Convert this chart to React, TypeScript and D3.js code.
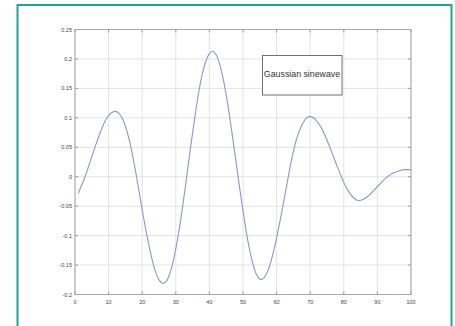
import React from "react";
import * as d3 from "d3";

const xValues = [
  1, 2, 3, 4, 5, 6, 7, 8, 9, 10, 11, 12, 13, 14, 15, 16, 17, 18, 19, 20,
  21, 22, 23, 24, 25, 26, 27, 28, 29, 30, 31, 32, 33, 34, 35, 36, 37, 38, 39, 40,
  41, 42, 43, 44, 45, 46, 47, 48, 49, 50, 51, 52, 53, 54, 55, 56, 57, 58, 59, 60,
  61, 62, 63, 64, 65, 66, 67, 68, 69, 70, 71, 72, 73, 74, 75, 76, 77, 78, 79, 80,
  81, 82, 83, 84, 85, 86, 87, 88, 89, 90, 91, 92, 93, 94, 95, 96, 97, 98, 99, 100,
];
const yValues = [
  -0.028, -0.014, 0.0, 0.017, 0.034, 0.051, 0.067, 0.082, 0.095, 0.104,
  0.109, 0.111, 0.108, 0.1, 0.086, 0.066, 0.04, 0.01, -0.023, -0.056,
  -0.088, -0.116, -0.142, -0.162, -0.175, -0.181, -0.179, -0.168, -0.149, -0.122,
  -0.09, -0.052, -0.01, 0.033, 0.075, 0.114, 0.149, 0.177, 0.197, 0.209,
  0.213, 0.207, 0.192, 0.169, 0.139, 0.103, 0.063, 0.022, -0.019, -0.058,
  -0.094, -0.125, -0.149, -0.166, -0.174, -0.173, -0.165, -0.15, -0.129, -0.104,
  -0.076, -0.046, -0.015, 0.016, 0.043, 0.065, 0.081, 0.093, 0.1, 0.102,
  0.1, 0.094, 0.086, 0.075, 0.062, 0.048, 0.033, 0.018, 0.004, -0.01,
  -0.021, -0.03, -0.036, -0.04, -0.04, -0.038, -0.034, -0.029, -0.023, -0.017,
  -0.011, -0.005, 0.0, 0.004, 0.007, 0.009, 0.011, 0.012, 0.012, 0.012,
];
const xTicks = [0, 10, 20, 30, 40, 50, 60, 70, 80, 90, 100];
const yTicks = [-0.2, -0.15, -0.1, -0.05, 0, 0.05, 0.1, 0.15, 0.2, 0.25];
const yTickLabels = ["-0.2", "-0.15", "-0.1", "-0.05", "0", "0.05", "0.1", "0.15", "0.2", "0.25"];
const legendLabel = "Gaussian sinewave";

export default function App() {
  const W = 455;
  const H = 326;
  const left = 75;
  const right = 411;
  const top = 29.5;
  const bottom = 294.5;
  const x = d3.scaleLinear().domain([0, 100]).range([left, right]);
  const y = d3.scaleLinear().domain([-0.2, 0.25]).range([bottom, top]);
  const pts = xValues.map((v, i) => [v, yValues[i]] as [number, number]);
  const line = d3
    .line<[number, number]>()
    .x((d) => x(d[0]))
    .y((d) => y(d[1]))
    .curve(d3.curveCatmullRom);
  const font = "'Liberation Sans', Arial, sans-serif";
  return (
    <svg
      width={W}
      height={H}
      style={{ position: "absolute", left: 0, top: 0, display: "block", background: "#fff" }}
    >
      <rect x={17.5} y={5} width={434} height={330} fill="#fff" stroke="#1fa39b" strokeWidth={2} />
      {xTicks.map((t) => (
        <line key={"gx" + t} x1={x(t)} x2={x(t)} y1={top} y2={bottom} stroke="#e3e3e3" strokeWidth={1} />
      ))}
      {yTicks.map((t) => (
        <line key={"gy" + t} x1={left} x2={right} y1={y(t)} y2={y(t)} stroke="#e3e3e3" strokeWidth={1} />
      ))}
      {xTicks.map((t) => (
        <g key={"tx" + t} stroke="#9a9a9a">
          <line x1={x(t)} x2={x(t)} y1={bottom} y2={bottom - 3} />
          <line x1={x(t)} x2={x(t)} y1={top} y2={top + 3} />
        </g>
      ))}
      {yTicks.map((t) => (
        <g key={"ty" + t} stroke="#9a9a9a">
          <line x1={left} x2={left + 3} y1={y(t)} y2={y(t)} />
          <line x1={right} x2={right - 3} y1={y(t)} y2={y(t)} />
        </g>
      ))}
      <rect x={left} y={top} width={right - left} height={bottom - top} fill="none" stroke="#a8a8a8" strokeWidth={1} />
      <path d={line(pts) || ""} fill="none" stroke="#8f93d4" strokeWidth={1.1} />
      {xTicks.map((t) => (
        <text key={"lx" + t} x={x(t)} y={bottom + 9} fontSize={5.5} fontFamily={font} fill="#444" textAnchor="middle">
          {String(t)}
        </text>
      ))}
      {yTicks.map((t, i) => (
        <text key={"ly" + t} x={left - 3} y={y(t) + 2} fontSize={5.5} fontFamily={font} fill="#444" textAnchor="end">
          {yTickLabels[i]}
        </text>
      ))}
      <rect x={262.5} y={55.5} width={79.5} height={39.5} fill="#fff" stroke="#707070" strokeWidth={1} />
      <text x={302} y={77} fontSize={8.8} fontFamily={font} fill="#333" textAnchor="middle">
        {legendLabel}
      </text>
    </svg>
  );
}
